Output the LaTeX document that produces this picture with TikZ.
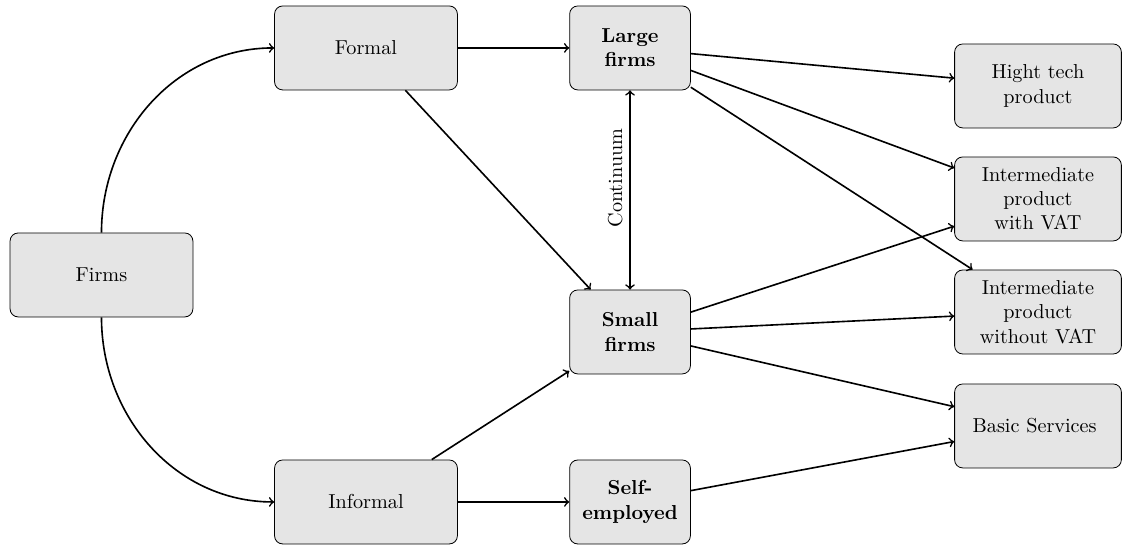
\documentclass[tikz,border=0pt]{standalone}
\usepackage{tikz}

\begin{document}
\begin{tikzpicture}[
    % Estilo de las cajas
    caja/.style={
        draw, rounded corners, fill=gray!20, align=center,
        minimum height=1.46cm, inner sep=2pt
    },
    % Anchos de las tres columnas
    caja ancha/.style={caja, minimum width=3.18cm},
    caja chica/.style={caja, minimum width=2.10cm, font=\bfseries},
    caja producto/.style={caja, minimum width=2.90cm},
    % Estilo para las flechas
    flecha/.style={->, thick}
]
    % Marco fijo de la figura
    \useasboundingbox (0,0) rectangle (19.687,9.530);

    % Parámetros generales
    \def\xa{6.365}   % columna formal / informal
    \def\xb{10.957}  % columna de tamaño de empresa
    \def\xc{18.052}  % columna de productos

    % Nodo raíz
    \node[caja ancha] (firms) at (1.765,4.748) {Firms};

    % Sector formal e informal
    \node[caja ancha] (formal) at (\xa,8.696) {Formal};
    \node[caja ancha] (informal) at (\xa,0.800) {Informal};

    % Tamaño de las empresas
    \node[caja chica] (large) at (\xb,8.696) {Large\\firms};
    \node[caja chica] (small) at (\xb,3.757) {Small\\firms};
    \node[caja chica] (selfemp) at (\xb,0.800) {Self-\\employed};

    % Productos y servicios
    % Parámetros: {nombre / altura / texto}
    \foreach \n/\y/\t in {
        hightech/8.035/Hight tech\\product,
        convat/6.070/Intermediate\\product\\with VAT,
        sinvat/4.104/Intermediate\\product\\without VAT,
        basic/2.122/Basic Services
    }{
        \node[caja producto] (\n) at (\xc,\y) {\t};
    }

    % Ramas desde Firms
    \draw[flecha] (firms.north) to[out=90,in=180] (formal.west);
    \draw[flecha] (firms.south) to[out=-90,in=180] (informal.west);

    % Conexiones del centro
    \draw[flecha] (formal) -- (large);
    \draw[flecha] (formal) -- (small);
    \draw[flecha] (informal) -- (small);
    \draw[flecha] (informal) -- (selfemp);
    \draw[thick, <->] (small) -- node[pos=0.56, above, sloped] {Continuum} (large);

    % Hacia los productos
    \draw[flecha] (large) -- (hightech);
    \draw[flecha] (large) -- (convat);
    \draw[flecha] (large) -- (sinvat);
    \draw[flecha] (small) -- (convat);
    \draw[flecha] (small) -- (sinvat);
    \draw[flecha] (small) -- (basic);
    \draw[flecha] (selfemp) -- (basic);

\end{tikzpicture}
\end{document}
